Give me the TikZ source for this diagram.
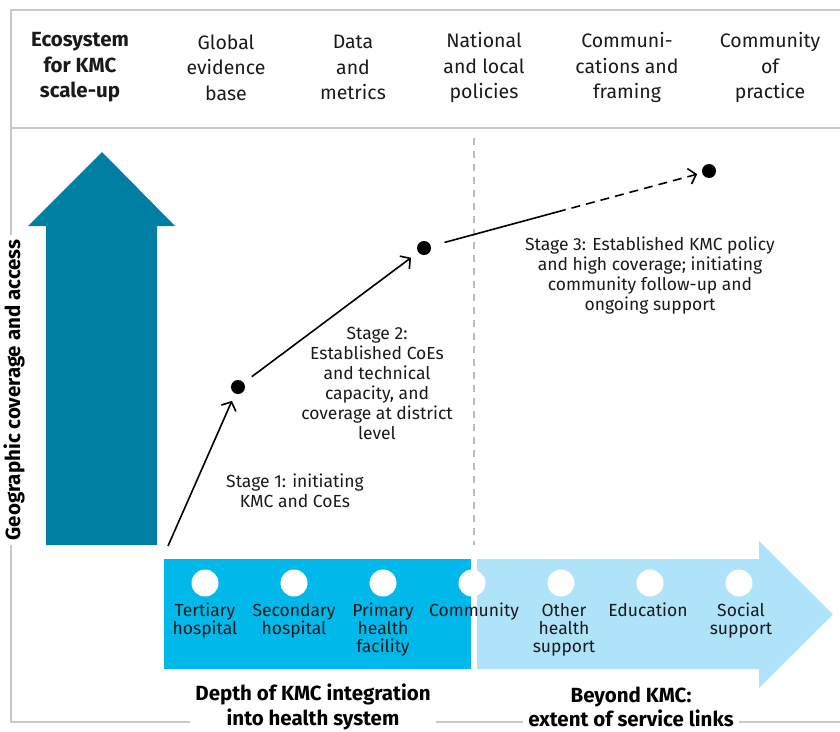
\documentclass[tikz,border=0pt]{standalone}
\usepackage{fontspec}
\setmainfont{Fira Sans}
\usetikzlibrary{arrows.meta}
\definecolor{kmcTeal}{HTML}{007FA3}
\definecolor{kmcCyan}{HTML}{00B9EA}
\definecolor{kmcLight}{HTML}{AEE3F9}
\definecolor{frameGray}{HTML}{C8C8C8}
\definecolor{txtCol}{HTML}{1A1A1A}
\definecolor{dashGray}{HTML}{BBBBBB}
\begin{document}
\begin{tikzpicture}[x=1pt,y=-1pt,
  header/.style={align=center, text=txtCol, font=\fontsize{19.5}{25.5}\selectfont},
  stagetext/.style={align=center, text=txtCol, font=\fontsize{17.5}{20}\selectfont},
  barlabel/.style={align=center, anchor=north, text=txtCol, inner sep=0pt, font=\fontsize{17.5}{18}\selectfont},
  axislabel/.style={align=center, text=black, fill=white, inner xsep=5pt, inner ysep=1pt, font=\fontsize{20.5}{24.5}\selectfont\bfseries},
  dot/.style={circle, fill=black, minimum size=14pt, inner sep=0pt},
  hole/.style={circle, fill=white, minimum size=27pt, inner sep=0pt},
  framepart/.style={draw=frameGray, line width=2pt},
  path/.style={draw=black, line width=1.6pt, -{Straight Barb[length=7pt,width=16pt,line width=1.6pt]}}
]
\useasboundingbox (0,0) rectangle (840,731);

% frame
\coordinate (ftl) at (11,10);
\coordinate (ftr) at (840,10);
\coordinate (fml) at (11,128);
\coordinate (fmr) at (840,128);
\coordinate (fbl) at (11,722);
\coordinate (fbr) at (840,722);
\draw[framepart] (ftr) -- (ftl) -- (fbl) -- (fbr);
\draw[framepart] (fml) -- (fmr);

% header
\node[header, font=\fontsize{20.5}{25.5}\selectfont\bfseries] (h0) at (80,67.5) {Ecosystem\\for KMC\\scale-up};
\node[header] (h1) at (226,67.5) {Global\\evidence\\base};
\node[header] (h2) at (353,67.5) {Data\\and\\metrics};
\node[header] (h3) at (484,67.5) {National\\and local\\policies};
\node[header] (h4) at (627,67.5) {Communi-\\cations and\\framing};
\node[header] (h5) at (770,67.5) {Community\\of\\practice};

% dashed divider
\coordinate (dvt) at (474,138);
\coordinate (dvb) at (474,545);
\draw[dashGray, line width=1.5pt, dash pattern=on 7pt off 6pt] (dvt) -- (dvb);

% teal arrow
\fill[kmcTeal] (46,545) -- (46,226) -- (28,226) -- (102,152) -- (175,226) -- (157,226) -- (157,545) -- cycle;

% bars
\fill[kmcCyan] (164,559) rectangle (471,669);
\fill[kmcLight] (477,559) -- (759,559) -- (759,541) -- (833,614.5) -- (759,688) -- (759,669) -- (477,669) -- cycle;

% circles and labels
\node[hole] (c1) at (205,583) {};
\node[hole] (c2) at (294,583) {};
\node[hole] (c3) at (383,583) {};
\node[hole] (c4) at (472,583) {};
\node[hole] (c5) at (561,583) {};
\node[hole] (c6) at (650,583) {};
\node[hole] (c7) at (739,583) {};
\node[barlabel] (l1) at (205,603) {Tertiary\\hospital};
\node[barlabel] (l2) at (294,603) {Secondary\\hospital};
\node[barlabel] (l3) at (383,603) {Primary\\health\\facility};
\node[barlabel] (l4) at (474,603) {Community};
\node[barlabel] (l5) at (564,603) {Other\\health\\support};
\node[barlabel] (l6) at (648,603) {Education};
\node[barlabel] (l7) at (741,603) {Social\\support};

% axis labels
\node[axislabel, rotate=90] (ya) at (14,390) {Geographic coverage and access};
\node[axislabel] (xa1) at (313,707) {Depth of KMC integration\\into health system};
\node[axislabel] (xa2) at (631,707) {Beyond KMC:\\extent of service links};

% stages
\coordinate (s0) at (168,546);
\node[dot] (d1) at (238,387) {};
\node[dot] (d2) at (424,248) {};
\node[dot] (d3) at (709,171) {};
\coordinate (mid3) at (557,212);
\draw[path, shorten >=8pt] (s0) -- (d1);
\draw[path, shorten <=10pt, shorten >=9pt] (d1) -- (d2);
\draw[line width=1.6pt, shorten <=14pt] (d2) -- (mid3);
\draw[path, dash pattern=on 9pt off 6pt, shorten >=5pt] (mid3) -- (d3);

\node[stagetext] (t1) at (295,491) {Stage 1: initiating\\KMC and CoEs};
\node[stagetext] (t2) at (377,383) {Stage 2:\\Established CoEs\\and technical\\capacity, and\\coverage at district\\level};
\node[stagetext] (t3) at (650,276) {Stage 3: Established KMC policy\\and high coverage; initiating\\community follow-up and\\ongoing support};
\end{tikzpicture}
\end{document}
